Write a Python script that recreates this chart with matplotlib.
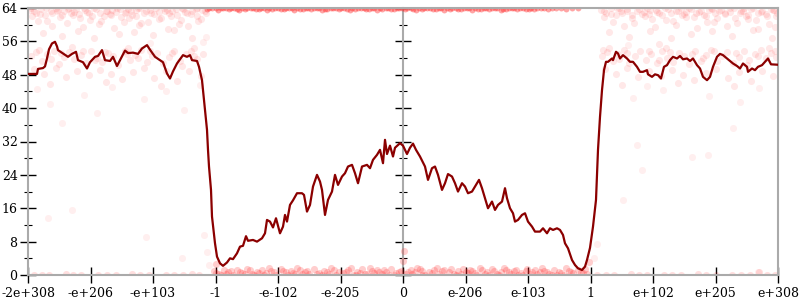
import matplotlib
matplotlib.use("Agg")
import matplotlib.pyplot as plt
from matplotlib.ticker import MultipleLocator

# ---------------- data (x in ordinal tick units 0..12) ----------------
x_tick_labels = ["-2e+308", "-e+206", "-e+103", "-1", "-e-102", "-e-205", "0",
                 "e-206", "e-103", "1", "e+102", "e+205", "e+308"]
y_ticks = [0, 8, 16, 24, 32, 40, 48, 56, 64]

# averaged error line (px-read, converted to tick units)
line_px = [28, 37, 38, 43, 45, 47, 49, 52, 55, 57, 58, 63, 68, 72, 76, 78, 83, 87, 90, 95,
           98, 102, 105, 110, 113, 117, 120, 125, 128, 133, 138, 142, 147, 150, 155, 160, 163, 167, 170, 173,
           177, 180, 183, 187, 190, 192, 197, 199, 202, 204, 207, 208, 209, 211, 212, 215, 217, 220, 223, 227,
           230, 233, 237, 240, 243, 246, 248, 253, 257, 262, 265, 267, 270, 273, 276, 280, 283, 285, 287, 290,
           293, 297, 302, 304, 307, 310, 313, 317, 320, 322, 325, 328, 332, 335, 338, 342, 345, 348, 352, 355,
           358, 362, 367, 370, 373, 377, 380, 383, 385, 387, 390, 393, 395, 400, 403, 407, 410, 413, 416, 420,
           425, 428, 432, 435, 438, 442, 445, 448, 452, 455, 458, 462, 465, 468, 472, 475, 479, 482, 485, 488,
           492, 495, 498, 502, 505, 507, 510, 513, 515, 518, 522, 525, 528, 532, 535, 540, 543, 547, 550, 553,
           557, 560, 563, 565, 568, 572, 575, 578, 582, 585, 587, 590, 593, 596, 598, 600, 602, 604, 606, 608,
           612, 613, 616, 618, 620, 623, 627, 630, 633, 637, 640, 643, 647, 648, 652, 655, 658, 661, 664, 667,
           670, 673, 677, 680, 683, 687, 690, 693, 697, 700, 703, 707, 710, 713, 717, 720, 723, 727, 730, 733,
           737, 740, 743, 747, 748, 752, 755, 758, 762, 765, 768, 771, 778]
line_val = [48.2, 48.2, 49.4, 49.6, 50.0, 51.9, 54.1, 55.5, 55.9, 54.8, 53.9, 53.1, 52.3, 53.0, 53.5, 51.5, 51.0, 49.5, 51.0, 52.3,
            52.5, 53.9, 51.5, 51.3, 52.3, 50.1, 51.5, 53.8, 53.2, 53.3, 53.0, 54.3, 55.1, 54.0, 52.3, 51.5, 51.0, 48.3, 47.1, 48.8,
            50.7, 51.7, 52.7, 52.3, 52.7, 51.5, 51.3, 49.9, 46.7, 41.9, 34.8, 30.0, 26.0, 20.4, 14.0, 7.6, 4.4, 2.8, 2.2, 3.0,
            4.0, 3.8, 5.2, 6.8, 7.0, 9.3, 8.2, 8.4, 8.0, 8.8, 10.0, 13.2, 12.8, 11.4, 13.6, 10.0, 11.6, 14.4, 12.8, 16.8,
            17.9, 19.6, 19.6, 19.2, 15.2, 16.8, 21.2, 24.0, 22.4, 20.4, 14.4, 18.0, 20.0, 24.0, 21.6, 23.6, 24.4, 26.0, 26.4, 24.4,
            22.0, 26.0, 26.4, 25.6, 27.6, 28.8, 30.0, 26.8, 32.4, 29.0, 31.0, 28.4, 30.5, 31.6, 31.0, 29.0, 30.5, 31.5, 30.0, 28.4,
            26.0, 22.8, 25.6, 26.0, 24.0, 20.4, 22.0, 24.2, 23.6, 22.0, 20.0, 22.0, 21.2, 19.6, 20.0, 21.2, 22.8, 20.8, 18.4, 16.0,
            17.6, 15.6, 16.8, 17.6, 20.8, 18.4, 16.0, 14.8, 12.8, 13.2, 14.4, 14.8, 12.8, 11.6, 10.4, 10.4, 11.2, 10.0, 11.2, 10.8,
            11.2, 10.8, 9.6, 7.6, 6.4, 3.6, 2.4, 1.6, 1.2, 2.0, 3.6, 6.5, 11.6, 18.0, 30.0, 37.9, 44.3, 49.1, 51.1, 51.1,
            51.9, 51.5, 53.5, 53.1, 51.9, 52.7, 51.9, 51.1, 51.1, 49.9, 48.7, 48.7, 49.1, 48.1, 47.5, 48.1, 47.9, 47.1, 49.9, 50.3,
            51.5, 52.3, 51.9, 52.5, 51.7, 51.9, 51.3, 51.9, 50.3, 49.5, 47.5, 46.7, 47.5, 49.9, 52.3, 53.0, 52.7, 51.9, 51.3, 50.7,
            50.1, 49.5, 50.7, 49.9, 48.7, 49.5, 49.1, 49.9, 50.3, 51.1, 51.9, 50.5, 50.4]
line_x = [(p - 28) / 62.5 for p in line_px]

# sampled error points (x in tick units, error in bits)
left_top = [(0.03, 63.6), (0.12, 62.9), (0.21, 63.8), (0.27, 62.4), (0.36, 63.2), (0.44, 63.9), (0.51, 61.8),
            (0.58, 63.4), (0.69, 62.7), (0.77, 63.7), (0.83, 61.5), (0.94, 63.1), (1.02, 62.2), (1.09, 63.8),
            (1.17, 60.9), (1.26, 63.3), (1.31, 62.6), (1.42, 63.9), (1.49, 61.9), (1.57, 63.0), (1.66, 62.4),
            (1.73, 63.6), (1.81, 60.5), (1.88, 63.2), (1.97, 62.8), (2.04, 63.9), (2.13, 61.6), (2.19, 63.4),
            (2.28, 62.1), (2.36, 63.7), (2.45, 61.2), (2.51, 63.0), (2.6, 62.5), (2.68, 63.8), (2.77, 61.4),
            (2.83, 63.3), (0.07, 62.0), (0.16, 60.8), (0.31, 61.0), (0.39, 59.8), (0.62, 60.3), (0.72, 62.3),
            (0.88, 59.5), (0.99, 61.2), (1.13, 60.1), (1.22, 62.0), (1.37, 59.2), (1.53, 60.7), (1.62, 61.7),
            (1.78, 59.9), (1.92, 60.6), (2.09, 61.4), (2.24, 58.9), (2.41, 60.2), (2.56, 59.6), (2.72, 60.9),
            (0.24, 58.1), (0.55, 57.2), (0.8, 58.6), (1.05, 56.9), (1.45, 57.8), (1.7, 58.3), (2.0, 57.5),
            (2.33, 58.8), (2.63, 56.7), (0.05, 63.9), (0.48, 63.5), (0.9, 63.9), (1.35, 63.6), (1.76, 63.9),
            (2.22, 63.6), (2.7, 63.9), (1.6, 63.8), (0.66, 63.9), (2.48, 63.7),
            (0.09, 63.2), (0.19, 62.6), (0.29, 63.9), (0.38, 62.9), (0.46, 63.4), (0.54, 62.3), (0.64, 63.7),
            (0.73, 63.0), (0.81, 62.5), (0.91, 63.5), (0.97, 62.8), (1.06, 63.9), (1.15, 62.9), (1.24, 63.4),
            (1.33, 62.4), (1.4, 63.0), (1.47, 63.8), (1.55, 62.7), (1.64, 63.3), (1.72, 62.2), (1.79, 63.9),
            (1.86, 62.9), (1.95, 63.5), (2.02, 62.6), (2.1, 63.1), (2.17, 63.9), (2.26, 62.7), (2.31, 63.3),
            (2.39, 62.4), (2.47, 63.9), (2.55, 62.9), (2.62, 63.4), (2.7, 62.2), (2.79, 63.6), (2.85, 62.9)]
left_mid = [(0.04, 52.6), (0.13, 53.4), (0.22, 51.2), (0.3, 52.9), (0.41, 53.8), (0.49, 50.6), (0.57, 52.3),
            (0.66, 53.5), (0.74, 51.7), (0.84, 52.8), (0.92, 50.9), (1.0, 53.6), (1.11, 52.1), (1.19, 51.0),
            (1.28, 53.2), (1.36, 52.4), (1.44, 50.4), (1.55, 53.7), (1.63, 51.5), (1.71, 52.7), (1.8, 53.9),
            (1.9, 51.1), (1.99, 52.5), (2.07, 53.3), (2.16, 50.8), (2.25, 52.2), (2.34, 53.6), (2.43, 51.4),
            (2.53, 52.9), (2.61, 53.8), (2.7, 51.8), (2.8, 53.0), (0.09, 49.4), (0.26, 48.2), (0.45, 49.7),
            (0.6, 47.5), (0.79, 48.9), (0.97, 47.9), (1.15, 49.2), (1.33, 48.1), (1.5, 46.9), (1.68, 48.6),
            (1.86, 49.5), (2.02, 47.3), (2.2, 48.8), (2.39, 46.6), (2.58, 49.0), (2.76, 47.8), (0.35, 45.7),
            (1.24, 46.2), (2.12, 45.4), (2.65, 54.3), (0.7, 54.6), (1.6, 54.4),
            (0.18, 53.9), (0.52, 53.1), (0.88, 53.8), (1.23, 53.5), (1.58, 52.9), (1.95, 53.7), (2.3, 53.2),
            (2.66, 52.6), (0.37, 51.8), (1.07, 51.6), (1.76, 51.9), (2.47, 50.2)]
left_sparse = [(0.15, 44.5), (0.35, 41.0), (0.9, 43.2), (1.35, 45.0), (1.85, 42.3), (2.2, 44.0), (2.5, 39.5),
               (0.55, 36.5), (2.75, 45.5), (1.1, 38.8), (0.32, 13.7), (0.7, 15.6), (1.89, 9.2), (2.46, 4.0),
               (2.82, 9.5), (2.86, 5.5), (2.9, 2.4), (2.84, 57.0), (2.8, 55.8), (1.95, 55.5)]
mid_top = [(2.86, 63.7), (2.95, 63.9), (3.04, 63.6), (3.12, 63.9), (3.21, 63.7), (3.3, 63.95), (3.38, 63.6),
           (3.47, 63.8), (3.56, 63.9), (3.65, 63.7), (3.73, 63.95), (3.82, 63.6), (3.91, 63.8), (4.0, 63.9),
           (4.09, 63.7), (4.18, 63.95), (4.26, 63.6), (4.35, 63.8), (4.44, 63.9), (4.53, 63.7), (4.62, 63.95),
           (4.7, 63.6), (4.79, 63.85), (4.88, 63.9), (4.97, 63.7), (5.06, 63.95), (5.15, 63.6), (5.23, 63.8),
           (5.32, 63.9), (5.41, 63.7), (5.5, 63.95), (5.59, 63.6), (5.67, 63.85), (5.76, 63.9), (5.85, 63.7),
           (5.94, 63.95), (6.03, 63.7), (6.12, 63.9), (6.21, 63.6), (6.3, 63.85), (6.39, 63.95), (6.48, 63.7),
           (6.57, 63.9), (6.66, 63.6), (6.75, 63.85), (6.84, 63.95), (6.93, 63.7), (7.02, 63.9), (7.11, 63.6),
           (7.2, 63.85), (7.29, 63.95), (7.38, 63.7), (7.47, 63.9), (7.56, 63.6), (7.65, 63.85), (7.74, 63.95),
           (7.83, 63.7), (7.92, 63.9), (8.01, 63.75), (8.1, 63.85), (8.2, 63.9), (8.32, 63.8), (8.45, 63.9),
           (8.6, 63.85), (8.8, 63.9),
           (2.9, 64.0), (3.0, 63.9), (3.08, 64.0), (3.17, 63.9), (3.25, 64.0), (3.34, 63.85), (3.43, 64.0),
           (3.51, 63.9), (3.6, 64.0), (3.69, 63.85), (3.78, 64.0), (3.86, 63.9), (3.95, 64.0), (4.04, 63.85),
           (4.13, 64.0), (4.22, 63.9), (4.31, 64.0), (4.4, 63.85), (4.48, 64.0), (4.57, 63.9), (4.66, 64.0),
           (4.75, 63.85), (4.84, 64.0), (4.92, 63.9), (5.01, 64.0), (5.1, 63.85), (5.19, 64.0), (5.28, 63.9),
           (5.37, 64.0), (5.45, 63.85), (5.54, 64.0), (5.63, 63.9), (5.72, 64.0), (5.81, 63.85), (5.9, 64.0),
           (5.98, 63.9), (6.07, 64.0), (6.16, 63.85), (6.25, 64.0), (6.34, 63.9), (6.43, 64.0), (6.52, 63.85),
           (6.61, 64.0), (6.7, 63.9), (6.79, 64.0), (6.88, 63.85), (6.97, 64.0), (7.06, 63.9), (7.15, 64.0),
           (7.24, 63.85), (7.33, 64.0), (7.42, 63.9), (7.51, 64.0), (7.6, 63.85), (7.69, 64.0), (7.78, 63.9),
           (7.87, 64.0), (7.96, 63.85), (8.05, 64.0), (8.15, 63.9), (8.26, 64.0), (8.38, 63.9), (8.52, 64.0),
           (8.7, 63.95)]
mid_bottom = [(2.98, 0.9), (3.05, 0.3), (3.13, 1.3), (3.2, 0.6), (3.28, 0.1), (3.35, 1.1), (3.43, 0.5),
              (3.51, 1.5), (3.58, 0.2), (3.66, 0.8), (3.74, 1.2), (3.81, 0.4), (3.89, 0.9), (3.97, 0.1),
              (4.04, 1.4), (4.12, 0.6), (4.2, 1.0), (4.27, 0.3), (4.35, 1.2), (4.43, 0.7), (4.5, 0.2),
              (4.58, 1.5), (4.66, 0.5), (4.74, 1.0), (4.81, 0.2), (4.89, 1.3), (4.97, 0.7), (5.04, 0.4),
              (5.12, 1.1), (5.2, 0.1), (5.27, 0.8), (5.35, 1.4), (5.43, 0.3), (5.5, 0.9), (5.58, 1.2),
              (5.66, 0.2), (5.73, 0.7), (5.81, 1.5), (5.89, 0.4), (5.96, 1.0), (6.04, 0.2), (6.12, 1.2),
              (6.19, 0.6), (6.27, 1.4), (6.35, 0.1), (6.42, 0.8), (6.5, 1.1), (6.58, 0.3), (6.65, 1.3),
              (6.73, 0.6), (6.81, 0.2), (6.88, 1.0), (6.96, 1.5), (7.04, 0.4), (7.11, 0.9), (7.19, 0.1),
              (7.27, 1.2), (7.34, 0.6), (7.42, 1.4), (7.5, 0.3), (7.57, 0.8), (7.65, 1.1), (7.73, 0.2),
              (7.8, 1.3), (7.88, 0.5), (7.96, 0.9), (8.03, 0.2), (8.11, 1.2), (8.19, 0.6), (8.26, 1.0),
              (8.34, 0.3), (8.42, 1.3), (8.49, 0.7), (8.57, 0.1), (8.65, 1.0), (8.72, 0.4), (8.8, 1.2),
              (8.88, 0.5), (8.95, 0.2), (3.09, 0.0), (3.62, 0.0), (4.16, 0.0), (4.7, 0.0), (5.24, 0.0),
              (5.78, 0.0), (6.31, 0.0), (6.85, 0.0), (7.38, 0.0), (7.92, 0.0), (8.46, 0.0), (6.0, 3.4),
              (6.02, 5.8), (3.0, 2.6), (8.98, 3.0),
              (3.01, 0.5), (3.16, 0.2), (3.24, 1.0), (3.39, 0.7), (3.47, 0.3), (3.55, 1.2), (3.7, 0.5),
              (3.78, 0.1), (3.86, 1.6), (3.93, 0.6), (4.08, 0.9), (4.24, 0.5), (4.31, 1.7), (4.39, 0.2),
              (4.47, 1.0), (4.62, 0.3), (4.78, 0.6), (4.85, 1.7), (4.93, 0.1), (5.08, 0.8), (5.16, 1.6),
              (5.31, 0.5), (5.39, 0.2), (5.47, 1.6), (5.54, 0.5), (5.62, 0.8), (5.7, 1.1), (5.85, 0.1),
              (5.93, 0.6), (6.08, 0.6), (6.15, 0.3), (6.23, 1.7), (6.31, 0.9), (6.46, 0.4), (6.54, 1.6),
              (6.62, 0.9), (6.77, 1.5), (6.92, 0.3), (7.0, 0.7), (7.07, 1.2), (7.15, 0.5), (7.23, 1.7),
              (7.31, 0.2), (7.46, 0.9), (7.54, 0.1), (7.61, 1.6), (7.69, 0.6), (7.77, 0.9), (7.84, 0.1),
              (7.99, 1.5), (8.07, 0.6), (8.15, 0.2), (8.23, 1.6), (8.3, 0.7), (8.38, 0.1), (8.53, 0.5),
              (8.61, 1.6), (8.68, 0.8), (8.84, 0.6), (8.91, 1.5)]
outer_bottom = [(0.1, 0.1), (0.34, 0.0), (0.6, 0.2), (0.85, 0.0), (1.12, 0.1), (1.4, 0.0), (1.66, 0.2),
                (1.93, 0.0), (2.2, 0.1), (2.48, 0.0), (2.74, 0.1), (9.1, 0.1), (9.38, 0.0), (9.64, 0.2),
                (9.9, 0.0), (10.18, 0.1), (10.45, 0.0), (10.72, 0.2), (11.0, 0.0), (11.26, 0.1), (11.55, 0.0),
                (11.82, 0.1), (11.7, 0.7), (0.22, 0.0), (0.72, 0.1), (1.26, 0.0), (1.79, 0.1), (2.34, 0.0),
                (2.62, 0.2), (9.24, 0.0), (9.77, 0.1), (10.31, 0.0), (10.85, 0.1), (11.4, 0.0), (11.95, 0.1)]
right_top = [(9.17, 63.5), (9.25, 62.8), (9.33, 63.9), (9.41, 62.3), (9.49, 63.3), (9.58, 63.8), (9.66, 61.7),
             (9.74, 63.4), (9.82, 62.6), (9.91, 63.9), (9.99, 61.4), (10.07, 63.1), (10.15, 62.3), (10.24, 63.7),
             (10.32, 60.8), (10.4, 63.3), (10.49, 62.5), (10.57, 63.9), (10.65, 61.8), (10.73, 63.0), (10.82, 62.4),
             (10.9, 63.6), (10.98, 60.6), (11.06, 63.2), (11.15, 62.8), (11.23, 63.9), (11.31, 61.5), (11.4, 63.4),
             (11.48, 62.0), (11.56, 63.7), (11.64, 61.1), (11.73, 63.0), (11.81, 62.6), (11.89, 63.8), (11.97, 62.2),
             (9.21, 61.9), (9.36, 60.6), (9.53, 59.7), (9.7, 60.4), (9.87, 62.1), (10.03, 59.4), (10.2, 61.1),
             (10.36, 60.0), (10.53, 61.9), (10.7, 59.1), (10.86, 60.6), (11.02, 61.6), (11.19, 59.8), (11.35, 60.5),
             (11.52, 61.3), (11.68, 58.9), (11.85, 60.2), (11.95, 59.5), (9.3, 58.2), (9.62, 57.1), (9.95, 58.5),
             (10.28, 56.9), (10.6, 57.7), (10.94, 58.4), (11.27, 57.4), (11.6, 58.7), (11.9, 56.8), (9.45, 63.9),
             (9.95, 63.6), (10.45, 63.9), (10.95, 63.7), (11.45, 63.9), (11.93, 63.6), (10.1, 55.3),
             (9.22, 63.2), (9.32, 62.6), (9.42, 63.9), (9.51, 62.9), (9.59, 63.4), (9.67, 62.3), (9.77, 63.7),
             (9.86, 63.0), (9.94, 62.5), (10.04, 63.5), (10.1, 62.8), (10.19, 63.9), (10.28, 62.9), (10.37, 63.4),
             (10.46, 62.4), (10.53, 63.0), (10.6, 63.8), (10.68, 62.7), (10.77, 63.3), (10.85, 62.2), (10.92, 63.9),
             (10.99, 62.9), (11.08, 63.5), (11.15, 62.6), (11.23, 63.1), (11.3, 63.9), (11.39, 62.7), (11.44, 63.3),
             (11.52, 62.4), (11.6, 63.9), (11.68, 62.9), (11.75, 63.4), (11.83, 62.2), (11.92, 63.6), (11.98, 62.9)]
right_mid = [(9.18, 52.4), (9.27, 53.5), (9.36, 51.3), (9.44, 53.0), (9.53, 53.9), (9.62, 50.7), (9.71, 52.4),
             (9.79, 53.6), (9.88, 51.6), (9.97, 52.9), (10.06, 50.8), (10.14, 53.7), (10.23, 52.0), (10.32, 51.1),
             (10.41, 53.3), (10.49, 52.5), (10.58, 50.5), (10.67, 53.8), (10.76, 51.4), (10.84, 52.8), (10.93, 53.9),
             (11.02, 51.2), (11.11, 52.6), (11.19, 53.4), (11.28, 50.9), (11.37, 52.3), (11.46, 53.7), (11.54, 51.5),
             (11.63, 53.0), (11.72, 53.9), (11.81, 51.9), (11.89, 53.1), (11.97, 52.2), (9.23, 49.3), (9.4, 48.1),
             (9.58, 49.6), (9.76, 47.4), (9.94, 48.8), (10.12, 47.8), (10.3, 49.1), (10.48, 48.0), (10.66, 46.8),
             (10.84, 48.5), (11.01, 49.4), (11.2, 47.2), (11.38, 48.7), (11.56, 46.5), (11.74, 48.9), (11.92, 47.7),
             (9.5, 45.6), (10.4, 46.1), (11.3, 45.3), (11.85, 54.4), (10.2, 54.5), (9.3, 54.3),
             (9.2, 53.9), (9.58, 53.2), (9.93, 53.8), (10.27, 53.4), (10.62, 52.9), (10.98, 53.6), (11.33, 53.1),
             (11.68, 52.5), (11.95, 53.7), (9.45, 51.7), (10.1, 51.6), (10.8, 51.9), (11.5, 50.3)]
right_sparse = [(9.6, 55.2), (9.68, 42.4), (10.16, 44.3), (11.28, 35.2), (11.39, 41.5), (9.74, 31.2),
                (9.82, 25.2), (9.52, 18.0), (10.62, 28.3), (10.88, 28.8), (11.68, 0.7), (9.05, 4.0),
                (9.1, 7.5), (10.9, 43.0), (11.7, 44.8), (9.9, 45.2)]

# ---------------- figure ----------------
plt.rcParams['font.family'] = ['DejaVu Serif']
fig = plt.figure(figsize=(8, 3), dpi=100)
ax = fig.add_axes([28 / 800, 25 / 300, 750 / 800, 267 / 300])

pt_color = '#ff2020'
def scatter(pairs, alpha, s=26):
    xs = [p[0] for p in pairs]
    ys = [p[1] for p in pairs]
    ax.scatter(xs, ys, s=s, color=pt_color, alpha=alpha, linewidths=0, zorder=2)

scatter(left_top, 0.10)
scatter(right_top, 0.10)
scatter(left_mid, 0.10)
scatter(right_mid, 0.10)
scatter(left_sparse, 0.07)
scatter(right_sparse, 0.07)
scatter(mid_top, 0.40, s=18)
scatter(mid_bottom, 0.22)
scatter(outer_bottom, 0.14)

ax.plot(line_x, line_val, color='#8b0000', linewidth=1.6, zorder=4)

ax.set_xlim(0, len(x_tick_labels) - 1)
ax.set_ylim(y_ticks[0], y_ticks[-1])
ax.set_xticks(range(len(x_tick_labels)))
ax.set_xticklabels(x_tick_labels)
ax.set_yticks(y_ticks)
ax.yaxis.set_minor_locator(MultipleLocator(4))

spine_color = '#aaaaaa'
for sp in ax.spines.values():
    sp.set_color(spine_color)
    sp.set_linewidth(1.5)

ax.tick_params(axis='both', which='major', direction='inout', length=11, width=1.0,
               color='black', labelsize=9, pad=2)
ax.tick_params(axis='y', which='minor', direction='inout', length=6, width=0.8, color='black')
ax.tick_params(axis='y', which='both', left=True, right=True)
ax.tick_params(axis='x', which='major', pad=3)

# middle vertical axis at x = "0"
ax2 = ax.twinx()
ax2.set_ylim(y_ticks[0], y_ticks[-1])
ax2.set_yticks(y_ticks)
ax2.yaxis.set_minor_locator(MultipleLocator(4))
for name, sp in ax2.spines.items():
    sp.set_visible(name == 'left')
ax2.spines['left'].set_position(('data', 6))
ax2.spines['left'].set_color(spine_color)
ax2.spines['left'].set_linewidth(1.5)
ax2.yaxis.set_ticks_position('left')
ax2.tick_params(axis='y', which='major', direction='inout', length=11, width=1.0,
                color='black', labelleft=False, labelright=False)
ax2.tick_params(axis='y', which='minor', direction='inout', length=6, width=0.8, color='black')
ax2.set_zorder(ax.get_zorder() - 1)
ax.patch.set_visible(False)

fig.savefig('out.png', dpi=100)
